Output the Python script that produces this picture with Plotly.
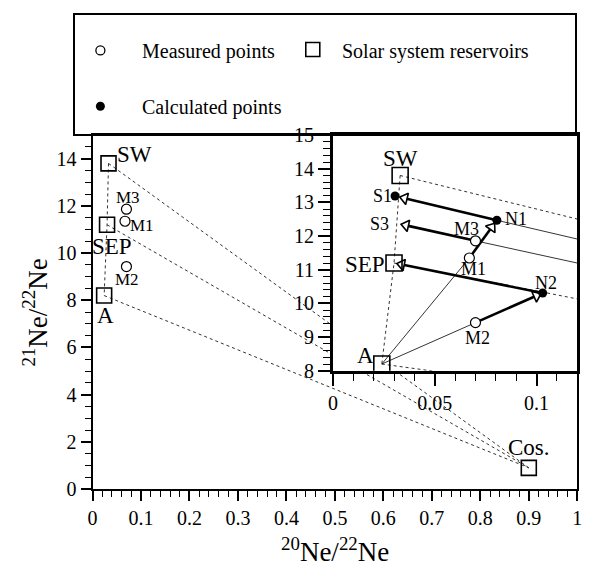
import math
import plotly.graph_objects as go

# ---------------- data ----------------
reservoir_names = ["SW", "SEP", "A", "Cos."]
reservoir_x = [0.033, 0.030, 0.024, 0.900]
reservoir_y = [13.80, 11.20, 8.20, 0.90]

measured_names = ["M1", "M2", "M3"]
measured_x = [0.067, 0.070, 0.070]
measured_y = [11.35, 9.43, 11.86]

calc_names = ["N1", "N2", "S1"]
calc_x = [0.0805, 0.103, 0.0305]
calc_y = [12.47, 10.31, 13.19]

s3_x, s3_y = 0.0335, 12.35

main_xticks = [0, 0.1, 0.2, 0.3, 0.4, 0.5, 0.6, 0.7, 0.8, 0.9, 1]
main_xticklabels = ["0", "0.1", "0.2", "0.3", "0.4", "0.5", "0.6", "0.7", "0.8", "0.9", "1"]
main_yticks = [0, 2, 4, 6, 8, 10, 12, 14]
inset_xticks = [0, 0.05, 0.1]
inset_xticklabels = ["0", "0.05", "0.1"]
inset_yticks = [8, 9, 10, 11, 12, 13, 14, 15]

legend_labels = ["Measured points", "Solar system reservoirs", "Calculated points"]

# ---------------- helpers ----------------
P = {}
for n, x, y in zip(reservoir_names, reservoir_x, reservoir_y):
    P[n] = (x, y)
for n, x, y in zip(measured_names, measured_x, measured_y):
    P[n] = (x, y)
for n, x, y in zip(calc_names, calc_x, calc_y):
    P[n] = (x, y)
P["S3"] = (s3_x, s3_y)

FONT = "Liberation Serif, Times New Roman, Times, serif"
W, H = 599, 578

def fx(px):
    return px / W

def fy(py):
    return 1 - py / H

ML, MR, MT, MB = 89, 582, 129, 497
IL, IR, IT, IB = 333.5, 582, 129, 374
LL, LR, LT, LB = 71, 580, 4, 128

INSET_XR = [0, 0.12]
INSET_YR = [8, 15]
sx = (IR - IL) / (INSET_XR[1] - INSET_XR[0])
sy = (IB - IT) / (INSET_YR[1] - INSET_YR[0])

fig = go.Figure()

dot_line = dict(color="#333", width=1, dash="dot")

def add_line(a, b, axes, line):
    xa, ya = axes
    fig.add_trace(go.Scatter(x=[P[a][0], P[b][0]], y=[P[a][1], P[b][1]], mode="lines",
                             line=line, xaxis=xa, yaxis=ya, showlegend=False, hoverinfo="skip"))

for axes in [("x", "y"), ("x2", "y2")]:
    for r in ["SW", "SEP", "A"]:
        add_line(r, "Cos.", axes, dot_line)
    fig.add_trace(go.Scatter(x=[P["SW"][0], P["SEP"][0], P["A"][0]],
                             y=[P["SW"][1], P["SEP"][1], P["A"][1]], mode="lines",
                             line=dot_line, xaxis=axes[0], yaxis=axes[1],
                             showlegend=False, hoverinfo="skip"))

ia = ("x2", "y2")
thin = dict(color="black", width=0.8)
for a, b in [("A", "M1"), ("A", "M2"), ("N1", "Cos."), ("M3", "Cos.")]:
    add_line(a, b, ia, thin)

arrows = [("N1", "S1", 10), ("M3", "S3", 5), ("N2", "SEP", 8), ("M1", "N1", 9), ("M2", "N2", 7)]
for a, b, gap in arrows:
    x0, y0 = P[a]
    x1, y1 = P[b]
    dxp = (x1 - x0) * sx
    dyp = (y1 - y0) * sy
    L = math.hypot(dxp, dyp)
    xh = x1 - (dxp / L) * gap / sx
    yh = y1 - (dyp / L) * gap / sy
    fig.add_trace(go.Scatter(x=[x0, xh], y=[y0, yh], mode="lines+markers",
                             line=dict(color="black", width=2.6),
                             marker=dict(symbol="triangle-up", size=10, angleref="previous",
                                         color="white", opacity=[0, 1],
                                         line=dict(color="black", width=1.6)),
                             xaxis="x2", yaxis="y2", showlegend=False, hoverinfo="skip"))

for axes, sq, circ in [(("x", "y"), 15, 10), (("x2", "y2"), 16, 10)]:
    fig.add_trace(go.Scatter(x=reservoir_x, y=reservoir_y, mode="markers", name="Solar system reservoirs",
                             marker=dict(symbol="square-open", size=sq, color="black", line=dict(width=1.6)),
                             xaxis=axes[0], yaxis=axes[1], showlegend=False))
    fig.add_trace(go.Scatter(x=measured_x, y=measured_y, mode="markers", name="Measured points",
                             marker=dict(symbol="circle", size=circ, color="white",
                                         line=dict(color="black", width=1.2)),
                             xaxis=axes[0], yaxis=axes[1], showlegend=False))
fig.add_trace(go.Scatter(x=calc_x, y=calc_y, mode="markers", name="Calculated points",
                         marker=dict(symbol="circle", size=9, color="black"),
                         xaxis="x2", yaxis="y2", showlegend=False))

fig.add_trace(go.Scatter(x=[97], y=[41], mode="markers",
                         marker=dict(symbol="circle-open", size=9, color="black", line=dict(width=1.3)),
                         xaxis="x3", yaxis="y3", showlegend=False, hoverinfo="skip"))
fig.add_trace(go.Scatter(x=[313], y=[40], mode="markers",
                         marker=dict(symbol="square-open", size=14, color="black", line=dict(width=1.6)),
                         xaxis="x3", yaxis="y3", showlegend=False, hoverinfo="skip"))
fig.add_trace(go.Scatter(x=[97], y=[99], mode="markers",
                         marker=dict(symbol="circle", size=9, color="black"),
                         xaxis="x3", yaxis="y3", showlegend=False, hoverinfo="skip"))

ann = []
def label(text, x, y, size, axes, xanchor="center"):
    ann.append(dict(text=text, x=x, y=y, xref=axes[0], yref=axes[1], showarrow=False,
                    xanchor=xanchor, yanchor="middle", font=dict(family=FONT, size=size, color="black")))

ma = ("x", "y")
label("SW", 0.087, 14.16, 23, ma)
label("M3", 0.073, 12.37, 17, ma)
label("M1", 0.103, 11.17, 17, ma)
label("SEP", 0.041, 10.29, 23, ma)
label("M2", 0.071, 8.9, 17, ma)
label("A", 0.026, 7.37, 23, ma)
label("Cos.", 0.901, 1.77, 23, ma)

label("SW", 0.0331, 14.31, 23, ia)
label("S1", 0.0298, 13.2, 18, ia, "right")
label("S3", 0.0285, 12.37, 18, ia, "right")
label("SEP", 0.0266, 11.17, 23, ia, "right")
label("A", 0.016, 8.46, 23, ia)
label("M3", 0.0655, 12.2, 18, ia)
label("M1", 0.0692, 11.03, 18, ia)
label("M2", 0.0708, 8.97, 18, ia)
label("N1", 0.090, 12.51, 18, ia)
label("N2", 0.1046, 10.61, 18, ia)

la = ("x3", "y3")
label(legend_labels[0], 137, 42, 20, la, "left")
label(legend_labels[1], 341, 42, 20, la, "left")
label(legend_labels[2], 137, 100, 20, la, "left")

ann.append(dict(text="<sup>20</sup>Ne/<sup>22</sup>Ne", x=fx((ML + MR) / 2), y=0,
                xref="paper", yref="paper", showarrow=False, xanchor="center", yanchor="bottom",
                yshift=-2, font=dict(family=FONT, size=27, color="black")))
ann.append(dict(text="<sup>21</sup>Ne/<sup>22</sup>Ne", x=fx(31), y=fy((MT + MB) / 2),
                xref="paper", yref="paper", showarrow=False, xanchor="center", yanchor="middle",
                textangle=-90, font=dict(family=FONT, size=27, color="black")))

tickfont = dict(family=FONT, size=20, color="black")
common = dict(showgrid=False, zeroline=False, showline=True, mirror=True, linecolor="black",
              ticks="outside", tickcolor="black", tickfont=tickfont)

fig.update_layout(
    width=W, height=H, margin=dict(l=0, r=0, t=0, b=0), autosize=False,
    paper_bgcolor="white", plot_bgcolor="white",
    font=dict(family=FONT, color="black"),
    annotations=ann,
    xaxis=dict(domain=[fx(ML), fx(MR)], range=[0, 1], tickvals=main_xticks, ticktext=main_xticklabels,
               linewidth=2, ticklen=10, tickwidth=1.5,
               minor=dict(dtick=0.02, ticklen=6, tickwidth=1, ticks="outside", tickcolor="black"),
               anchor="y", **common),
    yaxis=dict(domain=[fy(MB), fy(MT)], range=[0, 15], tickvals=main_yticks,
               linewidth=2, ticklen=10, tickwidth=1.5,
               minor=dict(dtick=0.5, ticklen=6, tickwidth=1, ticks="outside", tickcolor="black"),
               anchor="x", **common),
    xaxis2=dict(domain=[fx(IL), fx(IR)], range=INSET_XR, tickvals=inset_xticks, ticktext=inset_xticklabels,
                linewidth=3, ticklen=12, tickwidth=1.5,
                minor=dict(dtick=0.01, ticklen=7, tickwidth=1, ticks="outside", tickcolor="black"),
                anchor="y2", **common),
    yaxis2=dict(domain=[fy(IB), fy(IT)], range=INSET_YR, tickvals=inset_yticks,
                linewidth=3, ticklen=12, tickwidth=1.5,
                minor=dict(dtick=0.2, ticklen=7, tickwidth=1, ticks="outside", tickcolor="black"),
                anchor="x2", **common),
    xaxis3=dict(domain=[fx(LL), fx(LR)], range=[LL, LR], showgrid=False, zeroline=False,
                showticklabels=False, showline=True, mirror=True, linecolor="black", linewidth=2,
                anchor="y3"),
    yaxis3=dict(domain=[fy(LB), fy(LT)], range=[LB, LT], showgrid=False, zeroline=False,
                showticklabels=False, showline=True, mirror=True, linecolor="black", linewidth=2,
                anchor="x3"),
)

fig.write_html("out.html")
